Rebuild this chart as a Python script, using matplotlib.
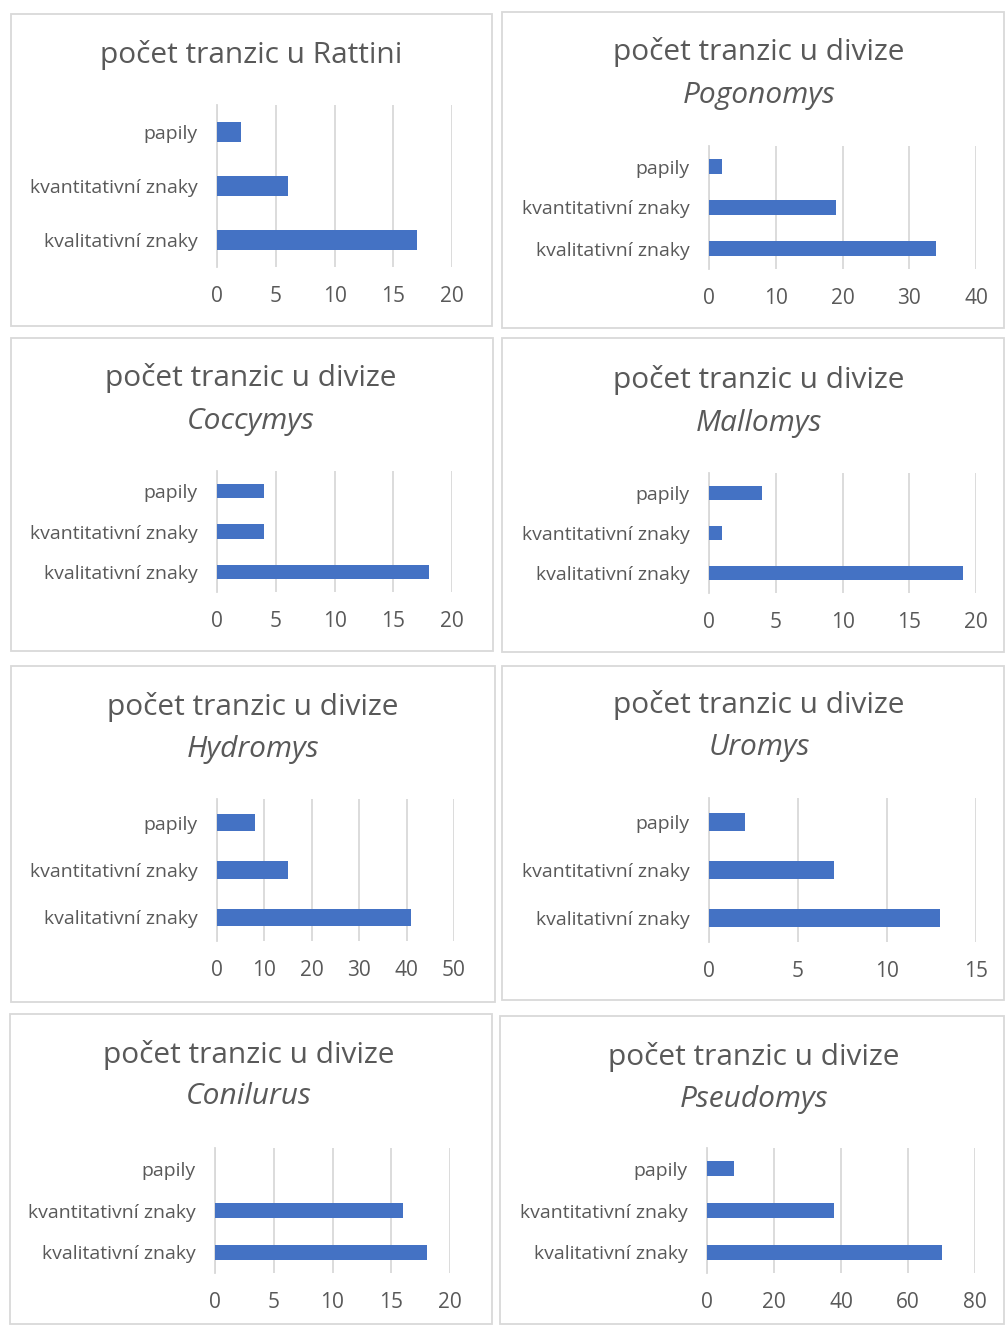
import matplotlib.pyplot as plt
from matplotlib.patches import Rectangle

plt.rcParams['font.family'] = ['Open Sans', 'DejaVu Sans']

categories = ['kvalitativní znaky', 'kvantitativní znaky', 'papily']

genera = ['Rattini', 'Pogonomys', 'Coccymys', 'Mallomys',
          'Hydromys', 'Uromys', 'Conilurus', 'Pseudomys']

# values in order: kvalitativní, kvantitativní, papily
rattini = [17, 6, 2]
pogonomys = [34, 19, 2]
coccymys = [18, 4, 4]
mallomys = [19, 1, 4]
hydromys = [41, 15, 8]
uromys = [13, 7, 2]
conilurus = [18, 16, 0]
pseudomys = [70, 38, 8]

x_ticks = [
    [0, 5, 10, 15, 20],
    [0, 10, 20, 30, 40],
    [0, 5, 10, 15, 20],
    [0, 5, 10, 15, 20],
    [0, 10, 20, 30, 40, 50],
    [0, 5, 10, 15],
    [0, 5, 10, 15, 20],
    [0, 20, 40, 60, 80],
]

W, H = 1005, 1325
fig = plt.figure(figsize=(W / 100, H / 100), dpi=100)

BAR = '#4472C4'
GRID = '#d9d9d9'
TXT = '#595959'


def fx(x):
    return x / W


def fy(y):
    return 1 - y / H


# panel frames (left, top, right, bottom) in px
frames = [
    (11, 14, 492, 326), (502, 12, 1004, 328),
    (11, 338, 493, 651), (502, 338, 1004, 652),
    (11, 666, 495, 1002), (502, 666, 1004, 1000),
    (10, 1014, 492, 1324), (500, 1016, 1004, 1324),
]
# plot areas (x0, x1, top, bottom) in px
areas = [
    (217, 452, 105, 267), (709, 976, 146, 269),
    (217, 452, 471, 592), (709, 976, 473, 593),
    (217, 454, 799, 941), (709, 976, 798, 942),
    (215, 450, 1148, 1273), (707, 975, 1148, 1273),
]
# title positions (center x, line1 y, line2 y)
titles = [
    (251, 55, None), (759, 52, 96),
    (251, 378, 421), (759, 380, 423),
    (253, 707, 750), (759, 705, 748),
    (249, 1055, 1097), (754, 1057, 1100),
]

series = [rattini, pogonomys, coccymys, mallomys,
          hydromys, uromys, conilurus, pseudomys]

for i, vals in enumerate(series):
    l, t, r, b = frames[i]
    fig.patches.append(Rectangle((fx(l), fy(b)), fx(r - l), (b - t) / H,
                                 transform=fig.transFigure, fill=False,
                                 edgecolor=GRID, lw=1.3))
    x0, x1, top, bot = areas[i]
    ax = fig.add_axes([fx(x0), fy(bot), fx(x1 - x0), (bot - top) / H])
    ax.barh(range(len(categories)), vals, height=0.36, color=BAR, zorder=3)
    ax.set_yticks(range(len(categories)))
    ax.set_yticklabels(categories)
    ax.set_ylim(-0.5, 2.5)
    ticks = x_ticks[i]
    ax.set_xticks(ticks)
    ax.set_xlim(ticks[0], ticks[-1])
    ax.set_facecolor('none')
    ax.grid(axis='x', color=GRID, lw=1.3, zorder=0)
    ax.set_axisbelow(True)
    for s in ['top', 'right', 'bottom']:
        ax.spines[s].set_visible(False)
    ax.spines['left'].set_color(GRID)
    ax.spines['left'].set_linewidth(1.3)
    ax.tick_params(axis='both', length=0, colors=TXT, labelsize=14)
    ax.tick_params(axis='y', pad=14)
    ax.tick_params(axis='x', pad=14)
    for lab in ax.get_xticklabels():
        lab.set_fontsize(15)
    ax.margins(x=0)

    cx, y1, y2 = titles[i]
    if y2 is None:
        fig.text(fx(cx), fy(y1), 'počet tranzic u ' + genera[i],
                 ha='center', va='center', fontsize=21.5, color=TXT)
    else:
        fig.text(fx(cx), fy(y1), 'počet tranzic u divize',
                 ha='center', va='center', fontsize=21.5, color=TXT)
        fig.text(fx(cx), fy(y2), genera[i], ha='center', va='center',
                 fontsize=21.5, color=TXT, style='italic')

fig.savefig('out.png', dpi=100, facecolor='white')
